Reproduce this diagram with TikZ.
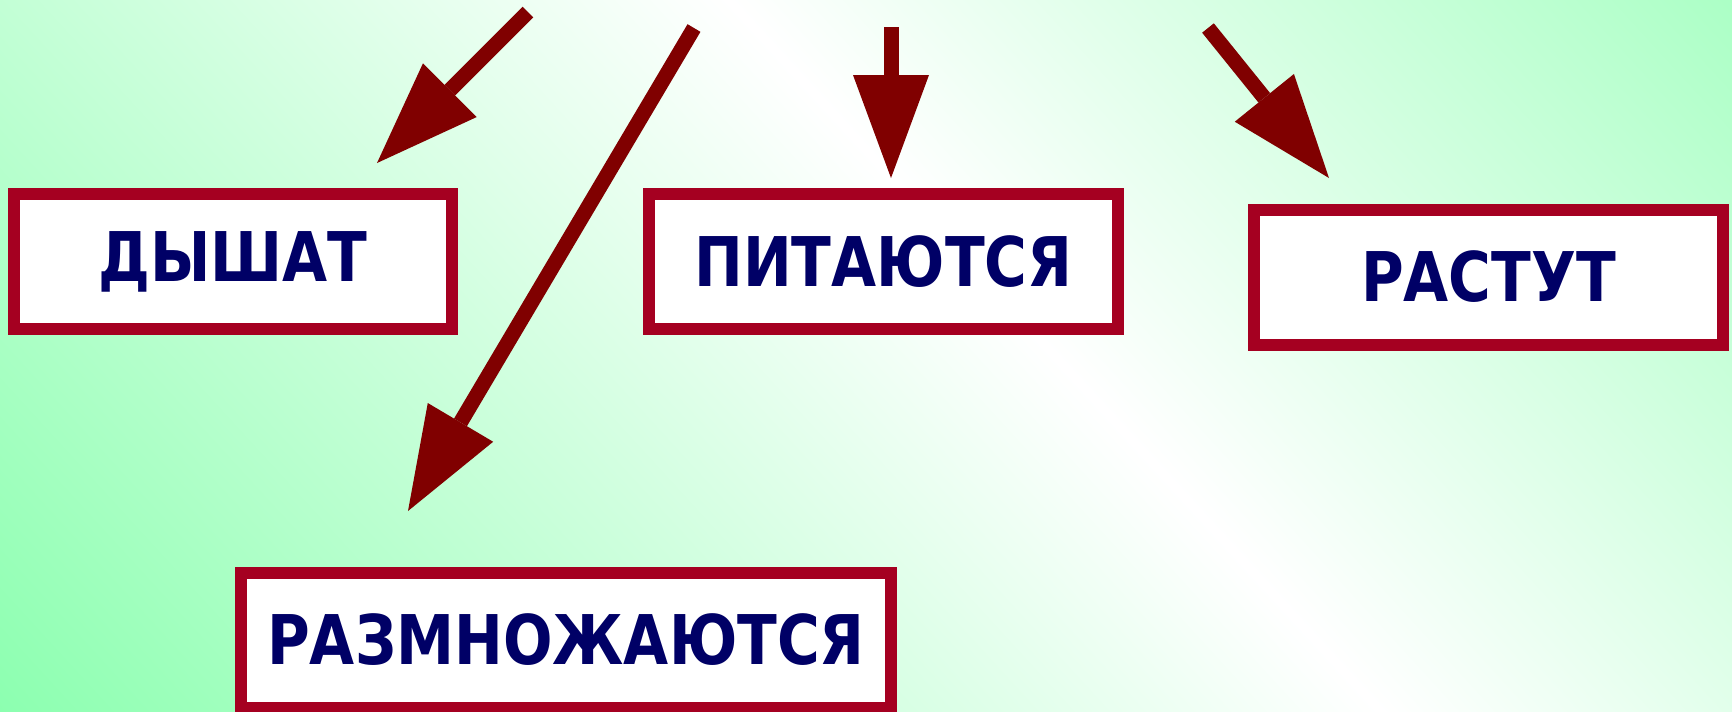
\documentclass[tikz,border=0pt]{standalone}
\usepackage{xcolor}
\usepackage{fontspec}
\usetikzlibrary{arrows.meta}
\newfontfamily\labelfont{DejaVu Sans}[FakeStretch=0.85]
\definecolor{bggreen}{RGB}{140,255,176}
\definecolor{boxred}{RGB}{165,0,33}
\definecolor{arrowred}{RGB}{128,0,0}
\definecolor{labelblue}{RGB}{0,0,102}
\pgfdeclarehorizontalshading{bgshade}{200mm}{color(0mm)=(bggreen); color(10mm)=(bggreen); color(111.8mm)=(white); color(213.6mm)=(bggreen); color(223.6mm)=(bggreen)}

\begin{document}
\begin{tikzpicture}[x=0.1mm, y=-0.1mm,
        main/.style = {draw=boxred, line width=1.2mm, fill=white, minimum height=13.5mm, inner sep=0pt, text=labelblue, font=\labelfont\bfseries\fontsize{19.5pt}{23pt}\selectfont},
        arr/.style = {draw=arrowred, line width=1.5mm, -{Triangle[length=10.3mm, width=7.6mm, line width=0pt]}}]
        \useasboundingbox (0,0) rectangle (1732,711);
        \clip (0,0) rectangle (1732,711);
        \node [rotate=42.5, inner sep=0pt] (bg) at (968,261) {\pgfuseshading{bgshade}};
        \node [main, minimum width=43.8mm] (0) at (233,261.5) {ДЫШАТ};
        \node [main, minimum width=46.9mm] (1) at (883.5,261.5) {ПИТАЮТСЯ};
        \node [main, minimum width=46.9mm] (2) at (1488.5,277) {РАСТУТ};
        \node [main, minimum width=65mm] (3) at (566,640) {РАЗМНОЖАЮТСЯ};
        \coordinate (a0) at (528,12);
        \coordinate (b0) at (377,163);
        \coordinate (a3) at (694,28);
        \coordinate (b3) at (408,511);
        \coordinate (a1) at (891,27);
        \coordinate (b1) at (891,178);
        \coordinate (a2) at (1208,28);
        \coordinate (b2) at (1329,178);
        \draw[arr] (a0) -- (b0);
        \draw[arr] (a3) -- (b3);
        \draw[arr] (a1) -- (b1);
        \draw[arr] (a2) -- (b2);
\end{tikzpicture}
\end{document}
